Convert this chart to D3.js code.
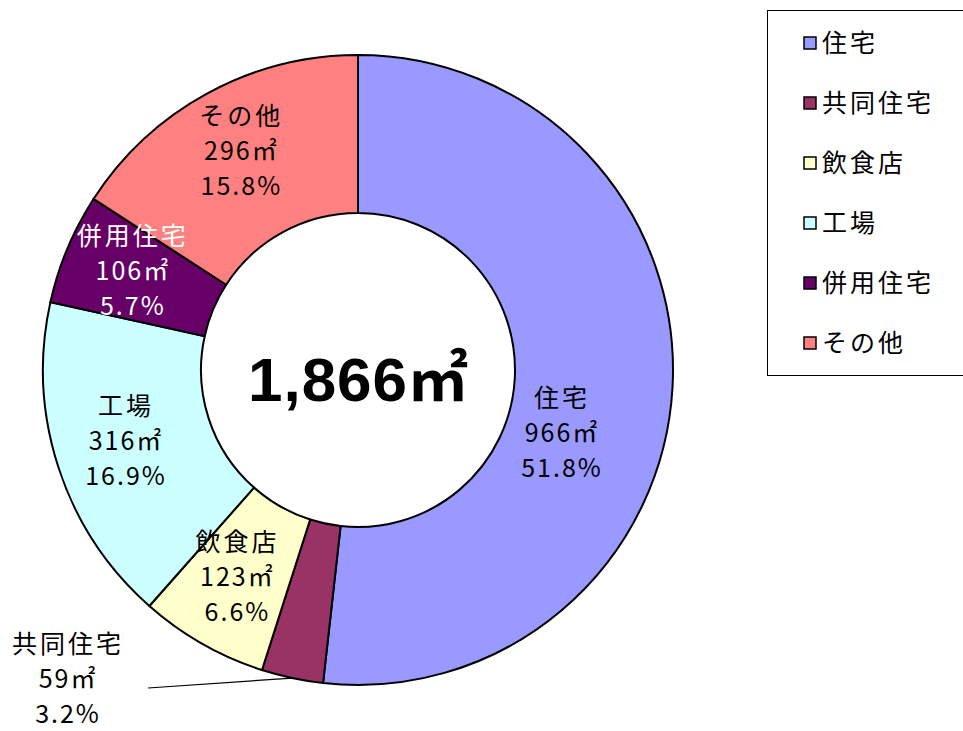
<!DOCTYPE html>
<html>
<head>
<meta charset="utf-8">
<script src="https://cdn.jsdelivr.net/npm/d3@7"></script>
<style>
  body { margin: 0; background: #fff; }
  svg text { font-family: "Noto Sans CJK JP", "Noto Sans", sans-serif; }
</style>
</head>
<body>
<div id="chart"></div>
<script>
// data
var categories = ['住宅', '共同住宅', '飲食店', '工場', '併用住宅', 'その他'];
var areas = [966, 59, 123, 316, 106, 296];
var percents = ['51.8%', '3.2%', '6.6%', '16.9%', '5.7%', '15.8%'];
var colors = ['#9999FF', '#993366', '#FFFFCC', '#CCFFFF', '#660066', '#FF8080'];
var totalValue = '1,866';
var unit = '㎡';

var width = 963, height = 731;
var cx = 358, cy = 370;
var outerR = 315, innerR = 157;
var labelR = 244;

var svg = d3.select('#chart').append('svg')
  .attr('width', width)
  .attr('height', height);

var pie = d3.pie().sort(null).value(function(d) { return d; });
var arcs = pie(areas);

var arc = d3.arc().innerRadius(innerR).outerRadius(outerR);

var g = svg.append('g').attr('transform', 'translate(' + cx + ',' + cy + ')');

g.selectAll('path.slice')
  .data(arcs)
  .enter()
  .append('path')
  .attr('class', 'slice')
  .attr('d', arc)
  .attr('fill', function(d, i) { return colors[i]; })
  .attr('stroke', '#000')
  .attr('stroke-width', 2);

// total in the middle
var total = g.append('text')
  .attr('x', 0)
  .attr('y', 31)
  .attr('text-anchor', 'middle')
  .attr('font-size', 62)
  .attr('font-weight', 'bold');
total.append('tspan')
  .style('font-family', '"Liberation Sans", Arial, sans-serif')
  .attr('letter-spacing', 1)
  .text(totalValue);
total.append('tspan')
  .style('font-family', '"Noto Sans CJK JP", sans-serif')
  .attr('font-size', 60)
  .text(unit);

// label placement: along the ring, the small slice goes outside with a leader
var lineGap = 35;
function labelPos(d, i) {
  var a = (d.startAngle + d.endAngle) / 2;
  if (i === 1) return [-290, 314];
  var p = [labelR * Math.sin(a), -labelR * Math.cos(a)];
  if (i === 0) { p = [204, 68]; } // Excel pushed this one down
  return p;
}

var labels = g.selectAll('g.lbl')
  .data(arcs)
  .enter()
  .append('g')
  .attr('class', 'lbl')
  .attr('transform', function(d, i) {
    var p = labelPos(d, i);
    return 'translate(' + p[0] + ',' + p[1] + ')';
  });

labels.each(function(d, i) {
  var sel = d3.select(this);
  var fill = i === 4 ? '#fff' : '#000';
  var lines = [categories[i], areas[i] + unit, percents[i]];
  lines.forEach(function(t, k) {
    sel.append('text')
      .attr('x', 0)
      .attr('y', (k - 1) * lineGap + 4)
      .attr('text-anchor', 'middle')
      .attr('font-size', 25)
      .attr('letter-spacing', k === 0 ? 3 : 2)
      .attr('fill', fill)
      .text(t);
  });
});

// leader line for 共同住宅
var small = arcs[1];
var ma = (small.startAngle + small.endAngle) / 2;
g.append('line')
  .attr('x1', -210)
  .attr('y1', 318)
  .attr('x2', outerR * Math.sin(ma))
  .attr('y2', -outerR * Math.cos(ma))
  .attr('stroke', '#000')
  .attr('stroke-width', 1.2);

// legend
var legend = svg.append('g').attr('transform', 'translate(767,10)');
legend.append('rect')
  .attr('x', 0.5)
  .attr('y', 0.5)
  .attr('width', 205)
  .attr('height', 365)
  .attr('fill', '#fff')
  .attr('stroke', '#000')
  .attr('stroke-width', 1);

var items = legend.selectAll('g.item')
  .data(categories)
  .enter()
  .append('g')
  .attr('class', 'item')
  .attr('transform', function(d, i) { return 'translate(0,' + (33 + i * 60) + ')'; });

items.append('rect')
  .attr('x', 37)
  .attr('y', -6)
  .attr('width', 12)
  .attr('height', 12)
  .attr('fill', function(d, i) { return colors[i]; })
  .attr('stroke', '#000')
  .attr('stroke-width', 1.5);

items.append('text')
  .attr('x', 55)
  .attr('y', 9)
  .attr('font-size', 25)
  .attr('letter-spacing', 3)
  .text(function(d) { return d; });
</script>
</body>
</html>
